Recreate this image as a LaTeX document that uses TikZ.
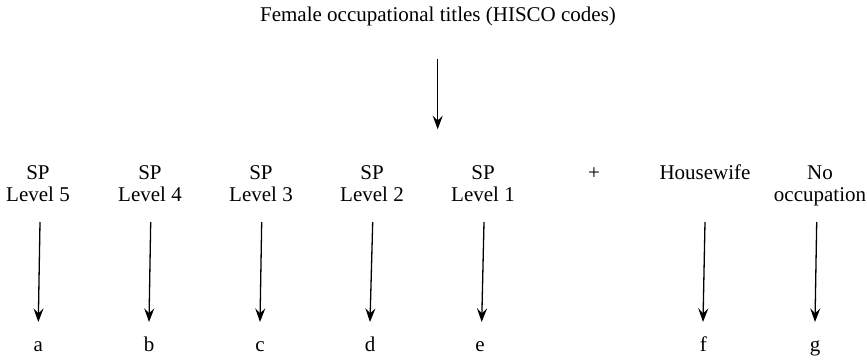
\documentclass[tikz,border=0pt]{standalone}
\usepackage{fontspec}
\setmainfont{Liberation Serif}
\usetikzlibrary{arrows.meta}
\begin{document}
\begin{tikzpicture}[x=0.5pt,y=-0.5pt,
  lbl/.style={inner sep=0pt,anchor=base,font=\fontsize{10.5}{11.2}\selectfont},
  arr/.style={line width=0.65pt,-{Stealth[length=6.8pt,width=5pt,inset=2.4pt]}}]
\useasboundingbox (0,0) rectangle (867,359);
\node[lbl] (title) at (438,21) {Female occupational titles (HISCO codes)};
\newcommand{\twoline}[2]{\begin{tabular}[b]{@{}c@{}}#1\\#2\end{tabular}}
\node[lbl] (l5) at (38,201.7) {\twoline{SP}{Level 5}};
\node[lbl] (l4) at (150,201.7) {\twoline{SP}{Level 4}};
\node[lbl] (l3) at (261,201.7) {\twoline{SP}{Level 3}};
\node[lbl] (l2) at (372,201.7) {\twoline{SP}{Level 2}};
\node[lbl] (l1) at (483,201.7) {\twoline{SP}{Level 1}};
\node[lbl] (plus) at (594,179.3) {+};
\node[lbl] (hw) at (705,179.3) {Housewife};
\node[lbl] (no) at (820,201.7) {\twoline{No}{occupation}};
\node[lbl] (a) at (38.3,351.7) {a};
\node[lbl] (b) at (149,351.7) {b};
\node[lbl] (c) at (260,351.7) {c};
\node[lbl] (d) at (370,351.7) {d};
\node[lbl] (e) at (480,351.7) {e};
\node[lbl] (f) at (703.3,351.7) {f};
\node[lbl] (g) at (815,351.7) {g};
% arrow end points
\coordinate (t0) at (437.7,59);   \coordinate (h0) at (437.7,129.3);
\coordinate (t1) at (40,222);     \coordinate (h1) at (38.3,322);
\coordinate (t2) at (150.7,222);  \coordinate (h2) at (149,322);
\coordinate (t3) at (261.7,222);  \coordinate (h3) at (260,322);
\coordinate (t4) at (372.7,222);  \coordinate (h4) at (370,322);
\coordinate (t5) at (484,222);    \coordinate (h5) at (481.7,322);
\coordinate (t6) at (705,222);    \coordinate (h6) at (703,322);
\coordinate (t7) at (816.7,222);  \coordinate (h7) at (815,322);
\foreach \i in {0,...,7} {\draw[arr] (t\i) -- (h\i);}
\end{tikzpicture}
\end{document}
